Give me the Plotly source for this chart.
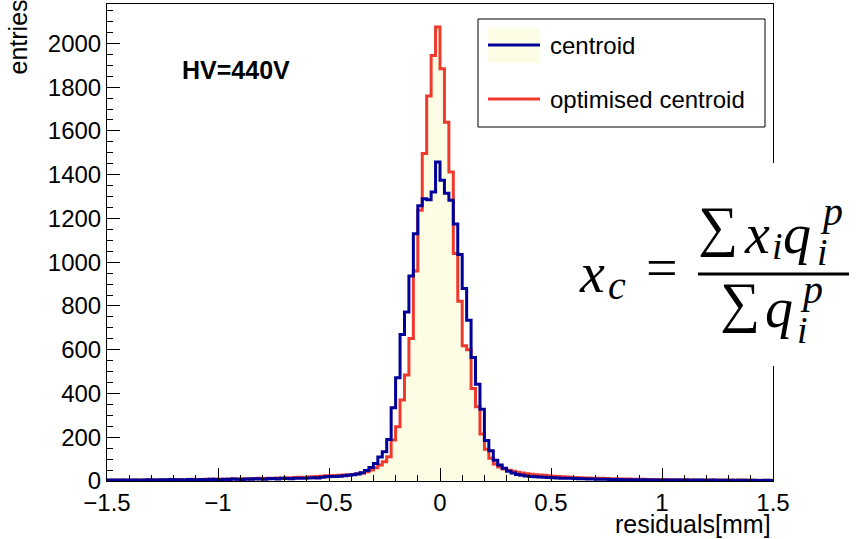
import plotly.graph_objects as go
import numpy as np

# ---------------- data ----------------
x_min, x_max, bin_w = -1.5, 1.5, 0.02

centroid = [
    4, 3, 5, 4, 3, 4, 5, 3, 4, 6, 5, 4, 6, 5, 7, 5, 6, 4, 7, 6,
    5, 7, 6, 8, 7, 6, 8, 7, 9, 8, 7, 9, 8, 10, 9, 8, 10, 11, 9, 12,
    11, 10, 12, 13, 12, 14, 15, 14, 17, 19,
    20, 21, 22, 24, 26, 28, 32, 38, 48, 62, 80, 110, 134, 190, 335, 472, 670, 772, 937, 1130,
    1258, 1290, 1285, 1321, 1458,
    1375, 1315, 1283, 1174, 1035, 880, 735, 564, 442, 328, 185, 138, 95, 73, 58, 45, 36, 30, 26, 23,
    21, 19, 18, 17, 16,
    15, 14, 13, 12, 12, 11, 10, 10, 9, 9, 8, 8, 8, 7, 7, 7, 6, 6, 6, 6,
    5, 6, 5, 5, 5, 4, 5, 4, 4, 4, 4, 3, 4, 4, 3, 3, 4, 3, 3, 3,
    3, 2, 3, 3, 2, 3, 2, 2, 3, 2,
]

optimised = [
    3, 4, 3, 5, 4, 3, 5, 4, 5, 4, 6, 5, 4, 6, 5, 7, 6, 5, 6, 8,
    7, 6, 8, 7, 9, 8, 7, 9, 10, 8, 10, 9, 11, 10, 12, 11, 13, 12, 14, 13,
    15, 14, 16, 17, 16, 18, 19, 21, 22, 24,
    24, 25, 26, 27, 28, 30, 33, 37, 42, 50, 60, 73, 88, 111, 187, 248, 370, 484, 651, 960,
    1237, 1497, 1760, 1945, 2075,
    1884, 1640, 1412, 1040, 822, 618, 600, 423, 339, 215, 145, 104, 78, 64, 55, 49, 44, 40, 36, 33,
    31, 29, 27, 26, 24,
    22, 21, 19, 18, 17, 16, 15, 14, 14, 13, 12, 12, 11, 10, 10, 9, 9, 9, 8, 8,
    8, 7, 7, 7, 6, 7, 6, 6, 6, 5, 6, 5, 5, 5, 4, 5, 4, 4, 4, 4,
    3, 4, 3, 4, 3, 3, 3, 3, 2, 3,
]

x_ticks = [-1.5, -1, -0.5, 0, 0.5, 1, 1.5]
x_tick_text = ["\u22121.5", "\u22121", "\u22120.5", "0", "0.5", "1", "1.5"]
y_ticks = [0, 200, 400, 600, 800, 1000, 1200, 1400, 1600, 1800, 2000]

n_bins = len(centroid)
edges = np.round(x_min + bin_w * np.arange(n_bins + 1), 4)

def step_xy(vals):
    xs = list(edges)
    ys = list(vals) + [vals[-1]]
    return xs, ys

# ---------------- geometry helpers ----------------
W, H = 857, 539
L, R, T, B = 107, 773, 4, 481

def px(xp):
    return (xp - L) / (R - L)

def py(yp):
    return (B - yp) / (B - T)

BLUE = "#000099"
RED = "#ee3a2c"
YELLOW = "#fdfde6"

fig = go.Figure()

xs, ys = step_xy(optimised)
fig.add_trace(go.Scatter(x=xs, y=ys, mode="lines", line=dict(shape="hv", color=RED, width=3),
                         fill="tozeroy", fillcolor=YELLOW, showlegend=False, hoverinfo="skip"))
xs, ys = step_xy(centroid)
fig.add_trace(go.Scatter(x=xs, y=ys, mode="lines", line=dict(shape="hv", color=BLUE, width=3),
                         showlegend=False, hoverinfo="skip"))

tickfont = dict(family="Liberation Sans, Arial, sans-serif", size=24, color="black")

fig.update_layout(
    width=W, height=H,
    margin=dict(l=L, r=W - R, t=T, b=H - B, pad=0),
    paper_bgcolor="white", plot_bgcolor="white",
    xaxis=dict(range=[x_min, x_max], tickvals=x_ticks, ticktext=x_tick_text,
               ticks="inside", ticklen=13, tickwidth=1, tickcolor="black",
               minor=dict(ticks="inside", dtick=0.1, ticklen=6, tickwidth=1, tickcolor="black"),
               showline=True, linecolor="black", linewidth=1, mirror=True,
               showgrid=False, zeroline=False, tickfont=tickfont),
    yaxis=dict(range=[0, 2180], tickvals=y_ticks,
               ticks="inside", ticklen=13, tickwidth=1, tickcolor="black",
               minor=dict(ticks="inside", dtick=50, ticklen=6, tickwidth=1, tickcolor="black"),
               showline=True, linecolor="black", linewidth=1, mirror=True,
               showgrid=False, zeroline=False, tickfont=tickfont),
)

shapes = []
annotations = []

# axis titles
annotations.append(dict(text="residuals[mm]", xref="paper", yref="paper", x=1.0, y=py(524),
                        xanchor="right", yanchor="middle", showarrow=False,
                        font=dict(family="Liberation Sans, Arial, sans-serif", size=25, color="black")))
annotations.append(dict(text="entries", xref="paper", yref="paper", x=px(17), y=py(-2),
                        xanchor="center", yanchor="top", textangle=-90, showarrow=False,
                        font=dict(family="Liberation Sans, Arial, sans-serif", size=25, color="black")))

# HV label
annotations.append(dict(text="<b>HV=440V</b>", xref="paper", yref="paper", x=px(180), y=py(70),
                        xanchor="left", yanchor="middle", showarrow=False,
                        font=dict(family="Liberation Sans, Arial, sans-serif", size=25, color="black")))

# legend
shapes.append(dict(type="rect", xref="paper", yref="paper", x0=px(478), x1=px(765), y0=py(127), y1=py(19),
                   line=dict(color="black", width=1), fillcolor="white", layer="above"))
shapes.append(dict(type="rect", xref="paper", yref="paper", x0=px(488), x1=px(540), y0=py(63), y1=py(28),
                   line=dict(width=0), fillcolor=YELLOW, layer="above"))
shapes.append(dict(type="line", xref="paper", yref="paper", x0=px(488), x1=px(540), y0=py(45), y1=py(45),
                   line=dict(color=BLUE, width=3), layer="above"))
shapes.append(dict(type="line", xref="paper", yref="paper", x0=px(488), x1=px(540), y0=py(99), y1=py(99),
                   line=dict(color=RED, width=3), layer="above"))
legfont = dict(family="Liberation Sans, Arial, sans-serif", size=24, color="black")
annotations.append(dict(text="centroid", xref="paper", yref="paper", x=px(548), y=py(45),
                        xanchor="left", yanchor="middle", showarrow=False, font=legfont))
annotations.append(dict(text="optimised centroid", xref="paper", yref="paper", x=px(548), y=py(99),
                        xanchor="left", yanchor="middle", showarrow=False, font=legfont))

# formula box
shapes.append(dict(type="rect", xref="paper", yref="paper", x0=px(575), x1=px(860), y0=py(366), y1=py(163),
                   line=dict(width=0), fillcolor="white", layer="above"))
shapes.append(dict(type="line", xref="paper", yref="paper", x0=px(698), x1=px(849), y0=py(274), y1=py(274),
                   line=dict(color="black", width=3), layer="above"))

SERIF = "Liberation Serif, DejaVu Serif, serif"

def sym(text, cx, cy, size, italic=True):
    t = "<i>%s</i>" % text if italic else text
    annotations.append(dict(text=t, xref="paper", yref="paper", x=px(cx), y=py(cy - 0.07 * size),
                            xanchor="center", yanchor="middle", showarrow=False,
                            font=dict(family=SERIF, size=size, color="black")))

sym("x", 592, 277, 56)
sym("c", 617, 288, 40)
sym("=", 662, 272, 56, italic=False)
sym("\u2211", 718, 230, 56, italic=False)
sym("x", 757, 238, 56)
sym("i", 777, 249, 38)
sym("q", 797, 238, 56)
sym("p", 831, 214, 40)
sym("i", 822, 255, 38)
sym("\u2211", 740, 306, 56, italic=False)
sym("q", 779, 312, 56)
sym("p", 811, 292, 40)
sym("i", 802, 333, 38)

fig.update_layout(shapes=shapes, annotations=annotations)

fig.write_html("out.html")
